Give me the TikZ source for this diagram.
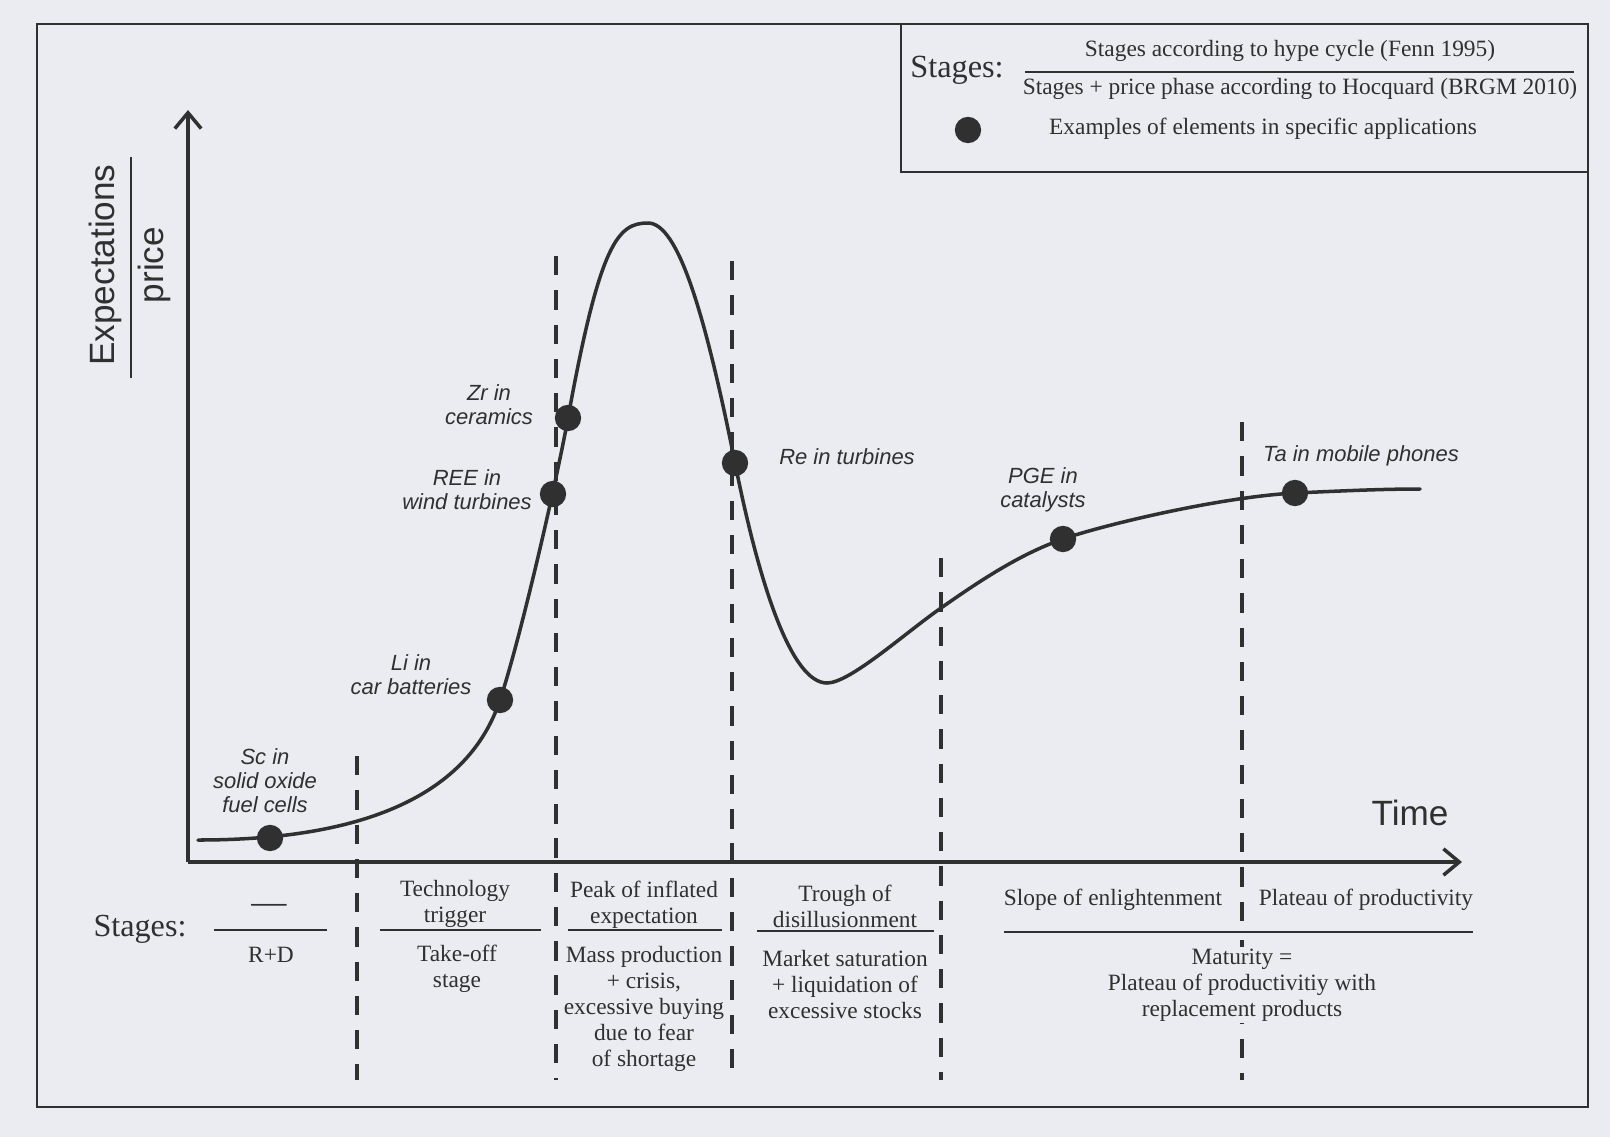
\documentclass[tikz,border=0pt]{standalone}
\usepackage{fontspec}
\setmainfont{Liberation Serif}
\newfontfamily\arialfont{Liberation Sans}
\usetikzlibrary{arrows.meta}
\definecolor{paper}{RGB}{234,236,241}
\definecolor{ink}{RGB}{48,48,48}
\begin{document}
\begin{tikzpicture}[x=0.02cm, y=-0.02cm, color=ink]
      \tikzset{
	  axis/.style={draw=ink, line width=2pt, -{Straight Barb[length=9pt,width=15pt,line width=2pt]}},
	  divider/.style={draw=ink, line width=2.4pt, dash pattern=on 11pt off 8.5pt},
	  rule/.style={draw=ink, line width=1.2pt},
	  dot/.style={circle, fill=ink, inner sep=0pt, minimum size=15pt},
	  elem/.style={font=\arialfont\itshape\fontsize{12.5}{13.7}\selectfont, align=center, text=ink, inner sep=1pt},
	  stage/.style={font=\fontsize{13.3}{14.8}\selectfont, align=center, text=ink, inner sep=1pt}
      }
      \path[use as bounding box, fill=paper] (0,0) rectangle (1610,1137);
      \draw[line width=0.9pt] (37,24) rectangle (1588,1107);

      % legend
      \draw[line width=1.2pt] (901,24) |- (1588,172);
      \node[font=\fontsize{18.4}{20}\selectfont] (legstages) at (957,70) {Stages:};
      \node[stage] (hype) at (1290,51) {Stages according to hype cycle (Fenn 1995)};
      \draw[rule] (1025,72) -- (1574,72);
      \node[stage] (hocquard) at (1300,89) {Stages + price phase according to Hocquard (BRGM 2010)};
      \node[dot] (legdot) at (968,130) {};
      \node[stage] (legtext) at (1263,129) {Examples of elements in specific applications};

      % axes
      \coordinate (origin) at (188,862);
      \draw[axis] (origin) -- (188,110);
      \draw[axis] (origin) -- (1462,862);
      \node[font=\arialfont\fontsize{20}{24}\selectfont, rotate=90] (expect) at (105,265) {Expectations};
      \draw[line width=1.1pt] (131,157) -- (131,378);
      \node[font=\arialfont\fontsize{20}{24}\selectfont, rotate=90] (price) at (154,265) {price};
      \node[font=\arialfont\fontsize{20}{24}\selectfont] (time) at (1410,813) {Time};

      \foreach \x/\top in {357/756, 556/256, 732/261, 941/558, 1242/422}
        \draw[divider] (\x,\top) -- (\x,1080);

      \coordinate (sc) at (270,838);
      \coordinate (li) at (500,700);
      \coordinate (ree) at (553,494);
      \coordinate (zr) at (568,418);
      \coordinate (re) at (735,463);
      \coordinate (pge) at (1063,539);
      \coordinate (ta) at (1295,493);
      \draw[line width=2pt, line cap=round] (198,840) .. controls (398,840) and (475,775) .. (li)
        .. controls (520,640) and (556,484) .. (zr)
        .. controls (600,242) and (618,223) .. (648,223)
        .. controls (678,223) and (705,313) .. (re)
        .. controls (760,588) and (792,683) .. (827,683)
        .. controls (850,683) and (905,633) .. (941,608)
        .. controls (985,577) and (1023,553) .. (pge)
        .. controls (1103,525) and (1220,497) .. (ta)
        .. controls (1340,491) and (1380,489) .. (1420,489);

      \foreach \e in {sc, li, ree, zr, re, pge, ta}
        \node[dot] (\e dot) at (\e) {};
      \node[elem] (sclabel) at (265,781) {Sc in\\solid oxide\\fuel cells};
      \node[elem] (lilabel) at (411,675) {Li in\\car batteries};
      \node[elem] (reelabel) at (467,490) {REE in\\wind turbines};
      \node[elem] (zrlabel) at (489,405) {Zr in\\ceramics};
      \node[elem] (relabel) at (847,457) {Re in turbines};
      \node[elem] (pgelabel) at (1043,490) {PGE in\\catalysts};
      \node[elem] (talabel) at (1361,456) {Ta in mobile phones};

      % stages below the time axis
      \node[font=\fontsize{18.3}{20}\selectfont] (stages) at (140,929) {Stages:};
      \node[stage, font=\fontsize{20}{20}\selectfont] (nostage) at (269,909) {---};
      \draw[rule] (214,930) -- (327,930);
      \node[stage] (rd) at (271,955) {R+D};
      \node[stage] (trigger) at (455,904) {Technology\\trigger};
      \draw[rule] (380,930) -- (541,930);
      \node[stage] (takeoff) at (457,969) {Take-off\\stage};
      \node[stage] (peak) at (644,905) {Peak of inflated\\expectation};
      \draw[rule] (568,930) -- (722,930);
      \node[stage] (mass) at (644,1009) {Mass production\\+ crisis,\\excessive buying\\due to fear\\of shortage};
      \node[stage] (trough) at (845,906) {Trough of\\disillusionment};
      \draw[rule] (757,931) -- (934,931);
      \node[stage] (market) at (845,984) {Market saturation\\+ liquidation of\\excessive stocks};
      \node[stage] (slope) at (1113,900) {Slope of enlightenment};
      \node[stage] (plateau) at (1366,900) {Plateau of productivity};
      \draw[rule, draw=paper, line width=6pt] (1242,928) -- (1242,940);
      \draw[rule] (1004,932) -- (1473,932);
      \node[stage, fill=paper] (maturity) at (1242,985) {Maturity =\\Plateau of productivitiy with\\replacement products};
\end{tikzpicture}
\end{document}
